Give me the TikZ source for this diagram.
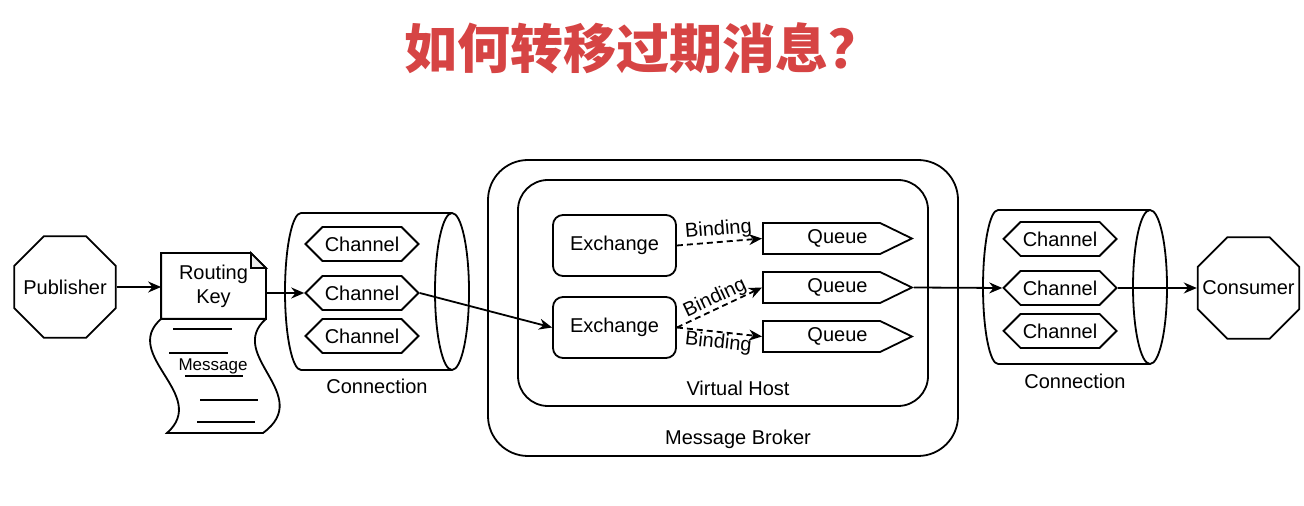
\documentclass[tikz,border=0pt]{standalone}
\usepackage{fontspec}
\setmainfont{Liberation Sans}
\newfontfamily\cjkfont{Noto Sans CJK SC}
\usetikzlibrary{shapes.geometric,shapes.symbols,arrows.meta}
\definecolor{titlered}{RGB}{214,68,68}
\tikzset{
	actor/.style={draw, line width=0.9pt, regular polygon, regular polygon sides=8,
		minimum size=55pt, inner sep=0pt},
	chan/.style={draw, line width=0.9pt, signal, signal to=east and west,
		minimum width=56.5pt, minimum height=17pt, inner sep=0pt},
	queue/.style={draw, line width=0.9pt, signal, signal to=east, signal pointer angle=52,
		minimum width=74.5pt, minimum height=15.5pt, inner sep=0pt},
	exch/.style={draw, line width=0.9pt, rounded corners=5pt,
		minimum width=61.5pt, minimum height=30.5pt},
	conn/.style={line width=0.9pt, -{Stealth[length=6.5pt,width=5.5pt]}},
	bind/.style={conn, dash pattern=on 3pt off 2pt}
}
\begin{document}
\begin{tikzpicture}[x=0.5pt, y=-0.5pt, font=\fontsize{10}{12}\selectfont, line width=0.9pt]
	\useasboundingbox (0,0) rectangle (1304,506);
	% Titel
	\node[font=\cjkfont\bfseries\fontsize{26.5}{30}\selectfont, text=titlered, anchor=west, inner sep=0pt] (title) at (404,48) {如何转移过期消息？};

	% Publisher und Nachricht
	\node[actor, label=center:Publisher] (pub) at (65,287) {};
	\node[minimum width=51.5pt, minimum height=32pt, align=center] (rkey) at (213.5,286) {Routing\\Key};
	\draw (rkey.south west) -- (rkey.north west) -- ([xshift=-7.5pt]rkey.north east)
		-- ([yshift=-7.5pt]rkey.north east) -- (rkey.south east) -- cycle;
	\filldraw[fill=gray!15] ([xshift=-7.5pt]rkey.north east) |- ([yshift=-7.5pt]rkey.north east) -- cycle;
	\draw (rkey.south west) .. controls (120,355) and (210,395) .. (167,433) -- (263,433)
		.. controls (315,395) and (225,355) .. (rkey.south east);
	\foreach \y/\a/\b in {329/173/232, 353/169/228, 376/185/243, 400/200/258, 422/197/255}
		\draw (\a,\y) -- (\b,\y);
	\node[font=\fontsize{8.5}{10}\selectfont] (msg) at (213,366) {Message};

	% Connection links
	\draw (301,213) -- (452,213);
	\draw (301,370) -- (452,370);
	\draw (301,213) arc[start angle=90, end angle=270, x radius=8pt, y radius=39.25pt];
	\draw (452,291.5) ellipse[x radius=8.5pt, y radius=39.25pt];
	\foreach \y/\n in {244/1, 293/2, 336/3}
		\node[chan] (lch\n) at (362,\y) {Channel};
	\node (lconn) at (377,386) {Connection};

	% Message Broker
	\node[draw, rounded corners=20pt, minimum width=235pt, minimum height=148pt] (broker) at (723,308) {};
	\node[draw, rounded corners=15pt, minimum width=205pt, minimum height=113pt] (vhost) at (723,293) {};
	\node (brokerlbl) at (738,439) {Message Broker};
	\node (vhostlbl) at (738,388) {Virtual Host};
	\node[exch] (ex1) at (614.5,245.5) {Exchange};
	\node[exch] (ex2) at (614.5,327.5) {Exchange};
	\foreach \y/\n in {238.5/1, 287.5/2, 336.5/3}
		\node[queue, label={[xshift=8pt]center:Queue}] (q\n) at (821.5,\y) {};
	\draw[bind] (ex1.east) -- node[above, sloped, inner sep=1pt] {Binding} (q1.west);
	\draw[bind] (ex2.east) -- node[above, sloped, inner sep=0pt] {Binding} (q2.west);
	\draw[bind] (ex2.east) -- node[below, sloped, inner sep=0.5pt] {Binding} (q3.west);

	% Connection rechts
	\draw (998,210) -- (1150,210);
	\draw (998,364) -- (1150,364);
	\draw (998,210) arc[start angle=90, end angle=270, x radius=7.5pt, y radius=38.5pt];
	\draw (1150,287) ellipse[x radius=8.5pt, y radius=38.5pt];
	\foreach \y/\n in {239/1, 288/2, 331/3}
		\node[chan] (rch\n) at (1060,\y) {Channel};
	\node (rconn) at (1075,381) {Connection};
	\node[actor, label=center:Consumer] (cons) at (1248.5,288) {};

	% Pfeile
	\draw[conn] (pub) -- (rkey.west |- pub);
	\draw[conn] (rkey.east |- lch2.west) -- (lch2.west);
	\draw[conn] (lch2.east) -- (ex2.west);
	\draw[conn] (q2.east) -- (rch2.west);
	\draw[conn] (rch2.east) -- (cons);
\end{tikzpicture}
\end{document}
